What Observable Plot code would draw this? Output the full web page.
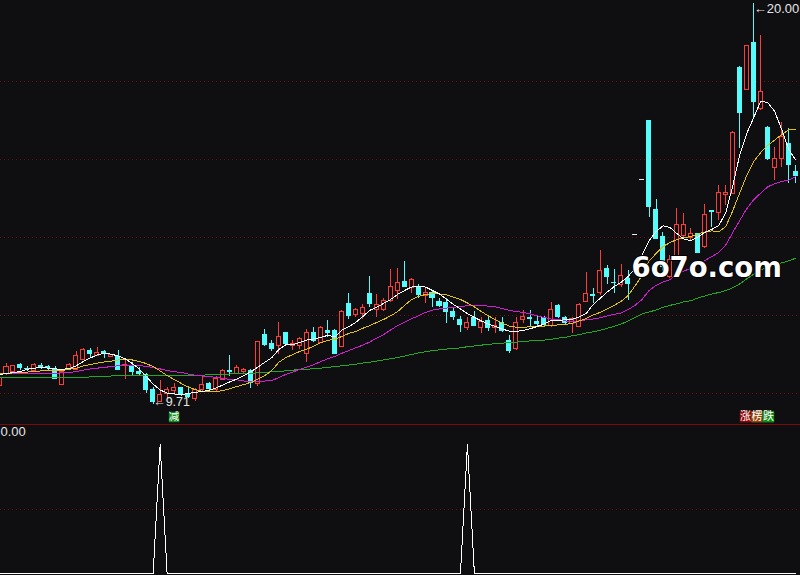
<!DOCTYPE html>
<html>
<head>
<meta charset="utf-8">
<script src="https://cdn.jsdelivr.net/npm/d3@7"></script>
<script src="https://cdn.jsdelivr.net/npm/@observablehq/plot@0.6"></script>
<style>
html, body { margin: 0; padding: 0; background: #0f0f12; }
#wrap { position: relative; width: 800px; height: 575px; overflow: hidden; background: #0f0f12; }
#sep { height: 1px; background: #7d0a0a; }
svg { display: block; }
</style>
</head>
<body>
<div id="wrap"></div>
<script>
// ---- daily candles (price) ----
const open = [10.18,10.51,10.55,10.74,10.65,10.57,10.73,10.70,10.65,10.22,
10.60,10.60,10.87,11.09,10.97,11.08,10.93,10.95,10.70,10.73,
10.57,10.49,10.10,9.79,9.99,10.06,10.15,10.00,9.87,10.10,
10.26,10.08,10.35,10.60,10.51,10.55,10.60,10.25,11.51,11.29,
11.21,11.56,11.23,11.21,11.01,11.56,11.30,11.62,11.62,11.18,
12.31,12.01,12.05,12.57,12.13,12.13,12.37,12.62,12.87,12.71,
12.74,12.51,12.59,12.37,12.34,12.09,11.89,11.69,11.95,11.68,
11.86,11.69,11.83,11.37,11.15,11.88,11.94,11.85,11.94,11.72,
12.26,11.95,11.79,11.71,12.34,12.53,12.58,13.21,12.85,12.78,
12.94,14.08,15.49,17.00,14.73,14.03,12.98,13.43,14.03,13.99,
14.09,13.75,14.69,14.64,15.09,15.12,18.37,17.78,19.01,17.30,
16.82,15.77,16.02,16.40,15.69];
const high = [10.43,10.76,10.72,10.77,10.69,10.76,10.76,10.72,10.69,10.58,
10.78,11.08,11.15,11.15,11.18,11.11,11.00,11.10,10.90,10.79,
10.67,10.50,10.15,10.33,10.15,10.26,10.16,10.12,10.13,10.44,
10.27,10.44,10.62,10.97,10.72,10.65,10.62,11.33,11.64,11.36,
11.81,11.57,11.35,11.44,11.63,11.70,11.72,11.87,11.63,12.13,
12.56,12.18,12.28,13.00,12.54,12.44,13.19,13.21,13.38,12.94,
12.79,12.69,12.62,12.43,12.44,12.21,11.98,11.96,12.10,11.95,
11.97,11.96,11.96,11.49,11.96,12.12,12.12,12.01,11.97,12.33,
12.27,11.97,11.96,12.31,13.10,12.68,13.67,13.28,13.18,13.32,
13.15,14.08,15.49,17.00,14.97,14.14,13.54,14.75,14.62,14.22,
14.10,14.85,14.69,15.33,15.33,16.72,18.38,18.92,20.00,19.18,
16.85,16.32,16.96,16.79,15.85];
const low = [10.16,10.47,10.54,10.60,10.56,10.56,10.62,10.58,10.37,10.22,
10.58,10.59,10.85,10.89,10.96,10.90,10.92,10.59,10.36,10.46,
10.44,9.99,9.71,9.78,9.86,9.96,9.93,9.86,9.79,10.06,
10.05,10.06,10.33,10.44,10.49,10.49,10.14,10.19,11.21,11.08,
11.00,11.23,11.10,11.13,10.80,11.32,11.27,11.44,10.99,11.17,
11.91,11.95,11.91,12.21,11.94,12.10,12.34,12.41,12.73,12.56,
12.44,12.31,12.21,12.21,11.79,11.87,11.57,11.62,11.71,11.54,
11.59,11.55,11.56,11.02,11.10,11.79,11.71,11.70,11.71,11.69,
11.93,11.74,11.54,11.69,12.33,12.31,12.51,12.79,12.56,12.73,
12.38,14.08,15.49,14.52,13.96,13.07,12.94,13.41,14.01,13.92,
13.58,13.72,14.26,14.44,14.82,15.10,16.27,17.77,17.08,17.26,
15.97,15.46,15.80,15.38,15.38];
const close = [10.41,10.69,10.71,10.63,10.62,10.72,10.66,10.64,10.37,10.56,
10.74,10.96,11.11,10.99,11.03,10.99,10.99,10.60,10.73,10.54,
10.49,10.08,9.78,9.95,10.08,10.15,9.94,9.91,10.08,10.23,
10.09,10.36,10.57,10.54,10.65,10.60,10.26,11.31,11.22,11.12,
11.44,11.25,11.28,11.40,11.54,11.33,11.68,11.53,11.00,12.10,
11.97,12.13,12.18,12.27,12.28,12.37,12.73,12.84,12.73,12.90,
12.50,12.58,12.44,12.24,12.07,11.95,11.74,11.82,11.72,11.83,
11.67,11.72,11.58,11.08,11.82,11.97,11.91,11.77,11.74,12.13,
11.94,11.79,11.91,12.26,12.54,12.49,13.15,12.98,12.81,13.00,
12.79,14.08,15.49,14.76,13.96,13.24,13.42,14.33,14.31,14.09,
13.60,14.58,14.65,15.13,15.15,16.69,17.18,18.90,17.47,17.74,
15.99,16.02,16.57,15.85,15.57];

// ---- moving averages ----
const ma5 = [10.49,10.51,10.54,10.56,10.62,10.65,10.67,10.65,10.63,10.62,
10.64,10.71,10.82,10.91,10.99,11.03,11.01,10.96,10.89,10.77,
10.63,10.44,10.24,10.09,10.01,9.99,9.97,10.00,10.03,10.05,
10.08,10.14,10.22,10.30,10.37,10.46,10.56,10.68,10.80,10.92,
11.13,11.25,11.25,11.31,11.37,11.40,11.44,11.49,11.45,11.62,
11.71,11.82,11.97,12.13,12.21,12.31,12.41,12.54,12.64,12.73,
12.75,12.73,12.64,12.55,12.42,12.28,12.17,12.05,11.95,11.86,
11.78,11.72,11.65,11.60,11.59,11.62,11.66,11.72,11.78,11.87,
11.87,11.89,11.90,11.96,12.05,12.28,12.44,12.60,12.74,12.85,
13.00,13.21,13.54,13.92,14.15,14.30,14.26,14.10,13.96,13.92,
14.01,14.13,14.21,14.31,14.64,15.33,16.13,16.67,17.08,17.50,
17.46,17.23,16.77,16.26,15.99];
const ma10 = [10.51,10.51,10.53,10.54,10.55,10.56,10.58,10.58,10.58,10.59,
10.62,10.65,10.71,10.74,10.78,10.81,10.83,10.86,10.87,10.86,
10.82,10.77,10.69,10.58,10.46,10.36,10.26,10.17,10.10,10.06,
10.04,10.04,10.08,10.12,10.18,10.23,10.28,10.37,10.46,10.59,
10.80,10.92,11.00,11.08,11.14,11.21,11.30,11.36,11.39,11.46,
11.54,11.59,11.67,11.74,11.82,11.90,11.99,12.10,12.26,12.41,
12.49,12.54,12.56,12.55,12.53,12.47,12.41,12.32,12.22,12.10,
11.99,11.89,11.80,11.73,11.70,11.70,11.71,11.72,11.73,11.74,
11.76,11.77,11.80,11.86,11.92,12.01,12.08,12.17,12.26,12.36,
12.51,12.76,13.03,13.39,13.59,13.77,13.87,13.95,13.99,14.03,
14.09,14.14,14.17,14.15,14.28,14.69,15.15,15.59,15.95,16.18,
16.36,16.50,16.64,16.76,16.77];
const ma20 = [10.51,10.51,10.51,10.51,10.51,10.52,10.52,10.52,10.52,10.53,
10.54,10.56,10.60,10.63,10.65,10.67,10.69,10.71,10.72,10.73,
10.72,10.69,10.67,10.63,10.59,10.56,10.54,10.50,10.47,10.45,
10.44,10.41,10.39,10.36,10.35,10.32,10.31,10.31,10.32,10.33,
10.41,10.49,10.55,10.62,10.68,10.74,10.82,10.89,10.95,11.03,
11.10,11.17,11.24,11.32,11.42,11.51,11.63,11.74,11.83,11.92,
11.99,12.08,12.14,12.17,12.19,12.21,12.23,12.25,12.26,12.26,
12.24,12.22,12.18,12.13,12.10,12.08,12.04,11.99,11.95,11.91,
11.90,11.86,11.85,11.86,11.89,11.91,11.94,11.99,12.03,12.06,
12.15,12.26,12.41,12.64,12.77,12.86,12.92,13.05,13.14,13.21,
13.31,13.41,13.51,13.62,13.81,14.13,14.44,14.74,14.97,15.14,
15.30,15.38,15.44,15.47,15.56];
const ma60 = [10.42,10.42,10.42,10.42,10.42,10.42,10.42,10.40,10.40,10.40,
10.40,10.40,10.40,10.43,10.43,10.43,10.45,10.45,10.45,10.45,
10.45,10.46,10.46,10.46,10.46,10.46,10.46,10.46,10.47,10.47,
10.48,10.48,10.49,10.50,10.51,10.51,10.52,10.53,10.54,10.56,
10.57,10.58,10.60,10.61,10.62,10.64,10.65,10.67,10.69,10.71,
10.73,10.75,10.78,10.80,10.83,10.86,10.89,10.92,10.96,11.00,
11.04,11.07,11.10,11.12,11.14,11.15,11.17,11.20,11.22,11.24,
11.26,11.28,11.29,11.31,11.32,11.33,11.35,11.35,11.37,11.39,
11.42,11.44,11.48,11.51,11.55,11.58,11.62,11.67,11.72,11.78,
11.86,11.95,12.04,12.09,12.14,12.21,12.26,12.30,12.35,12.38,
12.45,12.50,12.55,12.59,12.64,12.71,12.81,12.94,13.06,13.17,
13.23,13.30,13.35,13.40,13.47];

// ---- grid levels, indicator signal days, badges ----
const gridPrices = [10, 12, 14, 16, 18];
const subGrid = [0.5];
const signalDays = [23, 67];
const subLabel = ["0.00"];
const watermark = ["6o7o.com"];
const badgeA = {day: 25, chars: ["减"]};
const badgeB = {day: 108, chars: ["涨", "楞", "跌"]};

// ---- styles ----
const BG = "#0f0f12", RED = "#ff3c3c", CYAN = "#55fcfc", GRID = "#6e0f0f";
const maDefs = [
  {values: ma60, color: "#22a822"},
  {values: ma20, color: "#d21ed2"},
  {values: ma10, color: "#e0c010"},
  {values: ma5,  color: "#ffffff"}
];

const N = close.length;
const days = d3.range(N).map(i => ({i, open: open[i], high: high[i], low: low[i], close: close[i]}));
const up = days.filter(d => d.close > d.open);
const down = days.filter(d => d.close < d.open);
const flat = days.filter(d => d.close === d.open);
const colorOf = d => d.close > d.open ? RED : d.close < d.open ? CYAN : "#e8e8e8";
const hiDay = d3.greatest(days, d => d.high);
const loDay = d3.least(days, d => d.low);
const xDomain = [0.143, 114.69];

function badgeMarks(b, dy, colors, step, offset, r, fs) {
  const marks = [];
  b.chars.forEach((c, k) => {
    const dx = offset + k * step;
    marks.push(Plot.dot([b], {x: "day", frameAnchor: "bottom", dx, dy, symbol: "square", r, fill: colors[k]}));
    marks.push(Plot.text([b], {x: "day", frameAnchor: "bottom", dx, dy, text: () => c, fill: "#ffffff",
      fontSize: fs, fontFamily: "Noto Sans CJK SC", textAnchor: "middle", lineAnchor: "middle"}));
  });
  return marks;
}

const main = Plot.plot({
  width: 800, height: 424, margin: 0,
  style: {background: BG, overflow: "hidden"},
  x: {type: "linear", domain: xDomain, axis: null},
  y: {type: "linear", domain: [9.205, 20.077], axis: null},
  marks: [
    Plot.ruleY(gridPrices, {stroke: GRID, strokeDasharray: "1,3", shapeRendering: "crispEdges"}),
    Plot.ruleX(days, {x: "i", y1: "low", y2: "high", stroke: colorOf, shapeRendering: "crispEdges"}),
    Plot.rect(down, {x1: d => d.i - 0.36, x2: d => d.i + 0.36, y1: "open", y2: "close", fill: CYAN, shapeRendering: "crispEdges"}),
    Plot.rect(up, {x1: d => d.i - 0.29, x2: d => d.i + 0.29, y1: "open", y2: "close", fill: BG, stroke: RED, shapeRendering: "crispEdges"}),
    Plot.ruleY(flat, {x1: d => d.i - 0.36, x2: d => d.i + 0.36, y: "close", stroke: "#e8e8e8", shapeRendering: "crispEdges"}),
    ...maDefs.map(s => Plot.line(s.values, {x: (d, i) => i, y: d => d, stroke: s.color, strokeWidth: 1, shapeRendering: "crispEdges"})),
    Plot.text([hiDay], {x: "i", y: "high", text: d => "←" + d.high.toFixed(2), textAnchor: "start", dy: 5,
      fill: "#e6e6e6", fontSize: 13, fontFamily: "Liberation Sans"}),
    Plot.text([loDay], {x: "i", y: "low", text: d => "←" + d.low.toFixed(2), textAnchor: "start", dy: -2.5,
      fill: "#e6e6e6", fontSize: 12.5, fontFamily: "Liberation Sans"}),
    ...badgeMarks(badgeA, -7.5, ["#118a1e"], 0, 0, 5.9, 10.5),
    ...badgeMarks(badgeB, -7.8, ["#8e0606", "#94480a", "#0d8a16"], 11.5, -8.3, 6.5, 11),
    Plot.text(watermark, {frameAnchor: "top-left", dx: 631, dy: 276, text: d => d, textAnchor: "start", lineAnchor: "bottom",
      fontSize: 27.5, fontWeight: "bold", fontFamily: "DejaVu Sans", fill: "#ffffff", stroke: "#000000", strokeWidth: 2, paintOrder: "stroke"})
  ]
});

const sig = d3.range(N).map(i => ({i, v: signalDays.includes(i) ? 1 : 0}));
const sub = Plot.plot({
  width: 800, height: 150, margin: 0,
  style: {background: BG, overflow: "hidden"},
  x: {type: "linear", domain: xDomain, axis: null},
  y: {type: "linear", domain: [-0.0131, 1.147], axis: null},
  marks: [
    Plot.ruleY(subGrid, {stroke: GRID, strokeDasharray: "1,3", shapeRendering: "crispEdges"}),
    Plot.line(sig, {x: "i", y: "v", stroke: "#ffffff", strokeWidth: 1, shapeRendering: "crispEdges"}),
    Plot.text(subLabel, {frameAnchor: "top-left", dx: 0, dy: 1, text: d => d, textAnchor: "start", lineAnchor: "top",
      fill: "#e6e6e6", fontSize: 13, fontFamily: "Liberation Sans"})
  ]
});

const wrap = document.getElementById("wrap");
wrap.appendChild(main);
const sep = document.createElement("div");
sep.id = "sep";
wrap.appendChild(sep);
wrap.appendChild(sub);
</script>
</body>
</html>
